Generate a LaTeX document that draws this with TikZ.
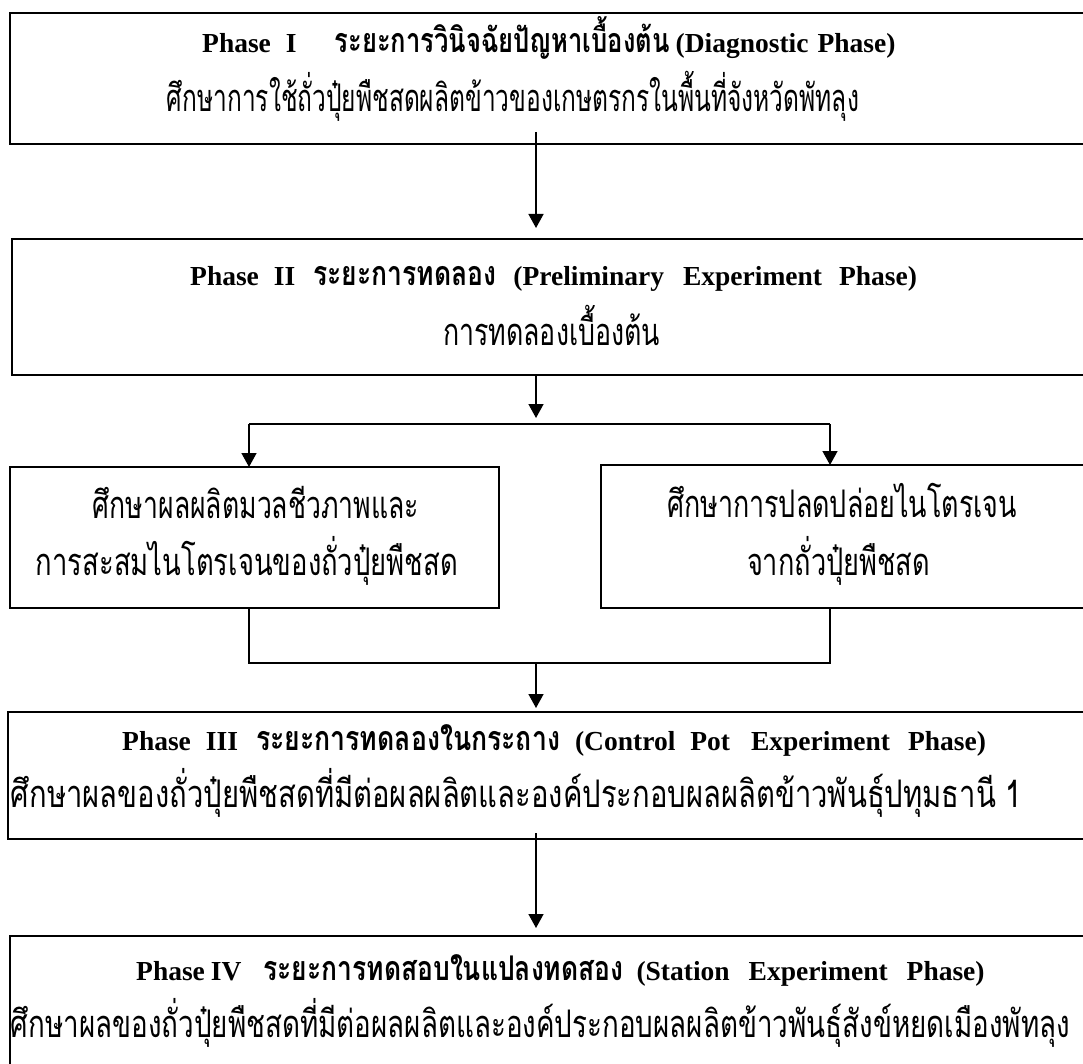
\documentclass[tikz,border=0pt]{standalone}
\usepackage{fontspec}
\usepackage{graphicx}
\setmainfont{Liberation Serif}
\newfontfamily\thaifont[Script=Thai,FakeStretch=0.72]{Loma}
\usetikzlibrary{arrows.meta}
\newcommand\fitw[2]{\resizebox{#1pt}{\height}{#2}}
\newcommand\thr[1]{{\thaifont\fontsize{38}{38}\selectfont #1}}
\newcommand\lb[1]{{\fontsize{27.5}{27.5}\selectfont\bfseries #1}}
\newcommand\tb[2]{\resizebox{#1pt}{\height}{\thaifont\fontsize{34}{34}\selectfont\bfseries #2}}
\tikzset{
  box/.style={draw, line width=2pt, inner sep=0pt, outer sep=0pt},
  conn/.style={line width=1.5pt},
  arr/.style={conn, -{Triangle[width=15pt,length=14pt]}},
  txt/.style={inner sep=0pt, anchor=base},
  txtw/.style={inner sep=0pt, anchor=base west}
}
\begin{document}
\begin{tikzpicture}[x=1pt,y=-1pt]
\useasboundingbox (0,0) rectangle (1083,1064);
% boxes
\node[box, minimum width=1080pt, minimum height=131pt] (b1) at (550,78.5) {};
\node[box, minimum width=1078pt, minimum height=136pt] (b2) at (551,307) {};
\node[box, minimum width=489pt, minimum height=141pt] (bl) at (254.5,537.5) {};
\node[box, minimum width=489pt, minimum height=143pt] (br) at (845.5,536.5) {};
\node[box, minimum width=1082pt, minimum height=127pt] (b3) at (549,775.5) {};
\node[box, minimum width=1080pt, minimum height=139pt] (b4) at (550,1005.5) {};
% texts
\node[txtw] (t1a) at (202,53) {\lb{Phase\hspace{15pt}I}\hspace{38pt}\tb{335}{ระยะการวินิจฉัยปัญหาเบื้องต้น}\hspace{6pt}\lb{(Diagnostic\hspace{9pt}Phase)}};
\node[txt] (t1b) at (513,112) {\fitw{692}{\thr{ศึกษาการใช้ถั่วปุ๋ยพืชสดผลิตข้าวของเกษตรกรในพื้นที่จังหวัดพัทลุง}}};
\node[txtw] (t2a) at (190,286) {\lb{Phase\hspace{15pt}II}\hspace{18pt}\tb{183}{ระยะการทดลอง}\hspace{17pt}\lb{(Preliminary\hspace{19pt}Experiment\hspace{17pt}Phase)}};
\node[txt] (t2b) at (551.5,345) {\fitw{217}{\thr{การทดลองเบื้องต้น}}};
\node[txt] (tla) at (256,518) {\fitw{326}{\thr{ศึกษาผลผลิตมวลชีวภาพและ}}};
\node[txt] (tlb) at (247,575) {\fitw{422}{\thr{การสะสมไนโตรเจนของถั่วปุ๋ยพืชสด}}};
\node[txt] (tra) at (842,517) {\fitw{350}{\thr{ศึกษาการปลดปล่อยไนโตรเจน}}};
\node[txt] (trb) at (838.5,575) {\fitw{183}{\thr{จากถั่วปุ๋ยพืชสด}}};
\node[txtw] (t3a) at (122,750) {\lb{Phase\hspace{15pt}III}\hspace{18pt}\tb{304}{ระยะการทดลองในกระถาง}\hspace{15pt}\lb{(Control\hspace{15pt}Pot\hspace{21pt}Experiment\hspace{18pt}Phase)}};
\node[txt] (t3b) at (516.5,807) {\fitw{1011}{\thr{ศึกษาผลของถั่วปุ๋ยพืชสดที่มีต่อผลผลิตและองค์ประกอบผลผลิตข้าวพันธุ์ปทุมธานี 1}}};
\node[txtw] (t4a) at (136,980) {\lb{Phase\hspace{6pt}IV}\hspace{22pt}\tb{360}{ระยะการทดสอบในแปลงทดสอง}\hspace{13pt}\lb{(Station\hspace{19pt}Experiment\hspace{19pt}Phase)}};
\node[txt] (t4b) at (540.5,1037) {\fitw{1059}{\thr{ศึกษาผลของถั่วปุ๋ยพืชสดที่มีต่อผลผลิตและองค์ประกอบผลผลิตข้าวพันธุ์สังข์หยดเมืองพัทลุง}}};
% connector coordinates
\coordinate (spine) at (536,0);
\coordinate (splitC) at (536,424);
\coordinate (splitL) at (249,424);
\coordinate (splitR) at (830,424);
\coordinate (joinL) at (249,663);
\coordinate (joinR) at (830,663);
\coordinate (joinC) at (536,663);
% connectors
\draw[arr, shorten <=-12pt, shorten >=11pt] (b1.south -| spine) -- (b2.north -| spine);
\draw[arr, shorten >=6pt] (b2.south -| spine) -- (splitC);
\draw[conn] (splitL) -- (splitR);
\draw[arr] (splitL) -- (splitL |- bl.north);
\draw[arr] (splitR) -- (splitR |- br.north);
\draw[conn] (joinL |- bl.south) -- (joinL) -- (joinR) -- (joinR |- br.south);
\draw[arr, shorten >=4pt] (joinC) -- (b3.north -| spine);
\draw[arr, shorten <=-6pt, shorten >=8pt] (b3.south -| spine) -- (b4.north -| spine);
\end{tikzpicture}
\end{document}
